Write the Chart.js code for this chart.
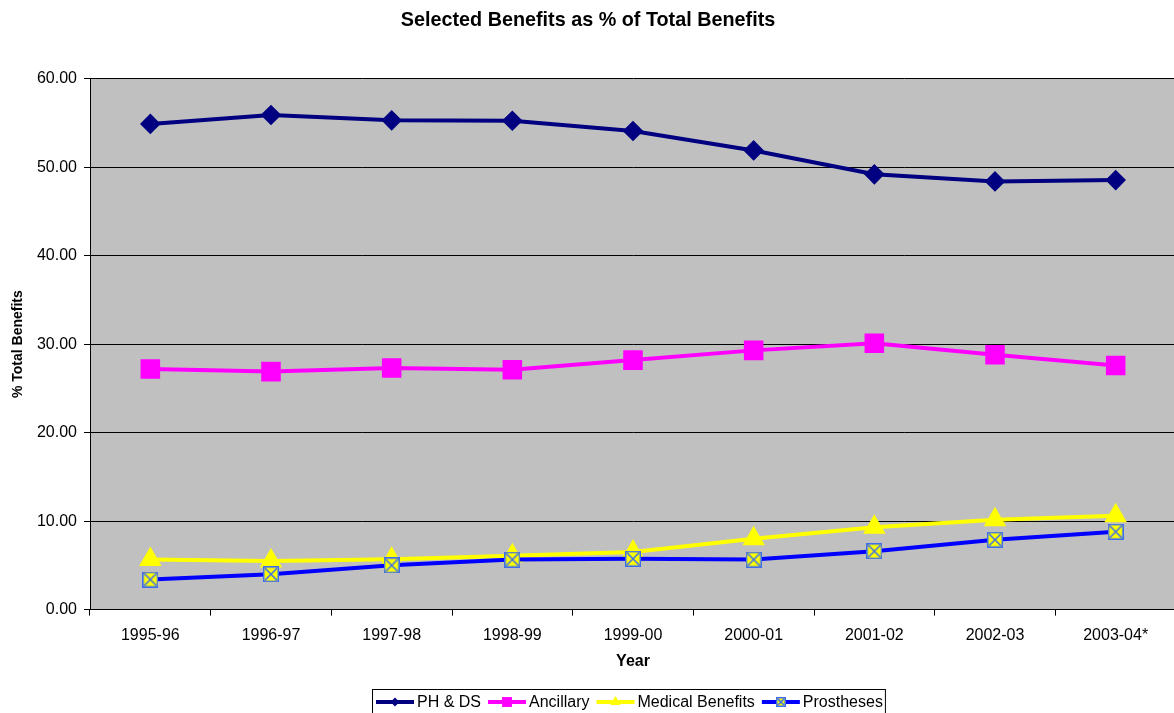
<!DOCTYPE html>
<html>
<head>
<meta charset="utf-8">
<script src="https://cdn.jsdelivr.net/npm/chart.js@4/dist/chart.umd.min.js"></script>
<style>
  html, body { margin: 0; padding: 0; background: #fff; overflow: hidden; }
  canvas { display: block; }
</style>
</head>
<body>
<canvas id="benefitsChart" width="1176" height="713"></canvas>
<script>
// Data
const years = ["1995-96", "1996-97", "1997-98", "1998-99", "1999-00", "2000-01", "2001-02", "2002-03", "2003-04*"];
const phds = [54.9, 55.9, 55.3, 55.25, 54.1, 51.9, 49.2, 48.4, 48.55];
const ancillary = [27.2, 26.9, 27.3, 27.1, 28.2, 29.3, 30.1, 28.8, 27.6];
const medical = [5.65, 5.5, 5.7, 6.1, 6.5, 8.0, 9.3, 10.15, 10.6];
const prostheses = [3.4, 4.0, 5.0, 5.65, 5.75, 5.65, 6.6, 7.9, 8.8];
const yTicks = [0, 10, 20, 30, 40, 50, 60];

const FONT = "'Liberation Sans', Arial, sans-serif";

// yellow square with blue X for Prostheses
function makeBoxX(size) {
    const c = document.createElement("canvas");
    c.width = size; c.height = size;
    const g = c.getContext("2d");
    g.fillStyle = "#FFFF00";
    g.fillRect(0, 0, size, size);
    g.strokeStyle = "#3C6CF0";
    g.lineWidth = 1.5;
    g.strokeRect(0.75, 0.75, size - 1.5, size - 1.5);
    g.beginPath();
    g.moveTo(2, 2); g.lineTo(size - 2, size - 2);
    g.moveTo(size - 2, 2); g.lineTo(2, size - 2);
    g.stroke();
    return c;
}
const boxX = makeBoxX(16);
const boxXSmall = makeBoxX(10);

// grey plot area
const plotBg = {
    id: "plotBg",
    beforeDraw(chart) {
        const a = chart.chartArea, ctx = chart.ctx;
        ctx.save();
        ctx.fillStyle = "#C0C0C0";
        ctx.fillRect(a.left, a.top, a.right - a.left, a.bottom - a.top);
        ctx.restore();
    }
};

// Excel-style legend: line + marker, in a box
const boxLegend = {
    id: "boxLegend",
    afterDraw(chart) {
        const ctx = chart.ctx;
        const items = chart.data.datasets;
        ctx.save();
        ctx.font = "16px " + FONT;
        ctx.textBaseline = "middle";
        const startX = 372;
        const y = 702;
        let x = 376;
        for (const ds of items) {
            ctx.strokeStyle = ds.borderColor;
            ctx.lineWidth = 4;
            ctx.beginPath();
            ctx.moveTo(x, y); ctx.lineTo(x + 38, y);
            ctx.stroke();
            ctx.fillStyle = ds.backgroundColor;
            Chart.helpers.drawPoint(ctx, {
                pointStyle: ds.legendStyle || ds.pointStyle,
                radius: ds.legendRadius,
                borderWidth: 0,
                rotation: 0
            }, x + 19, y);
            x += 41;
            ctx.fillStyle = "#000";
            ctx.fillText(ds.label, x, y + 1);
            x += ctx.measureText(ds.label).width + 7;
        }
        ctx.strokeStyle = "#000";
        ctx.lineWidth = 1;
        ctx.strokeRect(startX + 0.5, 689.5, x - startX - 5, 30);
        ctx.restore();
    }
};

const ctx = document.getElementById("benefitsChart").getContext("2d");

new Chart(ctx, {
    type: "line",
    data: {
        labels: years,
        datasets: [
            { label: "PH & DS", data: phds, borderColor: "#000080", backgroundColor: "#000080",
              pointStyle: "rectRot", pointRadius: 7.5, legendRadius: 4.5, borderWidth: 4, order: 3 },
            { label: "Ancillary", data: ancillary, borderColor: "#FF00FF", backgroundColor: "#FF00FF",
              pointStyle: "rect", pointRadius: 11, legendRadius: 7, borderWidth: 4, order: 2 },
            { label: "Medical Benefits", data: medical, borderColor: "#FFFF00", backgroundColor: "#FFFF00",
              pointStyle: "triangle", pointRadius: 9, legendRadius: 6, borderWidth: 4, order: 1 },
            { label: "Prostheses", data: prostheses, borderColor: "#0000FF", backgroundColor: "#FFFF00",
              pointStyle: boxX, legendStyle: boxXSmall, pointRadius: 8, legendRadius: 5, borderWidth: 4, order: 0 }
        ]
    },
    options: {
        responsive: false,
        animation: false,
        events: [],
        layout: { autoPadding: false, padding: { left: 0, right: 0, top: 0, bottom: 42 } },
        elements: {
            line: { tension: 0, fill: false },
            point: { borderWidth: 0 }
        },
        plugins: {
            legend: { display: false },
            tooltip: { enabled: false },
            title: {
                display: true,
                text: "Selected Benefits as % of Total Benefits",
                color: "#000",
                font: { family: FONT, size: 19.8, weight: "bold" },
                padding: { top: 9, bottom: 46 }
            }
        },
        scales: {
            x: {
                offset: true,
                afterFit(scale) { scale.paddingLeft = 0; scale.paddingRight = 0; },
                grid: { display: true, drawOnChartArea: false, drawTicks: true, tickLength: 6, color: "#000", offset: true },
                border: { display: true, color: "#000", width: 1 },
                ticks: { color: "#000", font: { family: FONT, size: 16 }, padding: 10, maxRotation: 0 },
                title: { display: true, text: "Year", color: "#000", font: { family: FONT, size: 16, weight: "bold" }, padding: { top: -3, bottom: 0 } }
            },
            y: {
                min: 0,
                max: 60,
                afterBuildTicks(scale) { scale.ticks = yTicks.map(v => ({ value: v })); },
                afterFit(scale) { scale.width = 90; },
                grid: { color: "#000", lineWidth: 1, drawTicks: true, tickLength: 6 },
                border: { display: true, color: "#000", width: 1 },
                ticks: { color: "#000", font: { family: FONT, size: 16 }, padding: 7,
                         callback: v => Number(v).toFixed(2) },
                title: { display: true, text: "% Total Benefits", color: "#000", font: { family: FONT, size: 14, weight: "bold" }, padding: { top: 10, bottom: 0 } }
            }
        }
    },
    plugins: [plotBg, boxLegend]
});
</script>
</body>
</html>
